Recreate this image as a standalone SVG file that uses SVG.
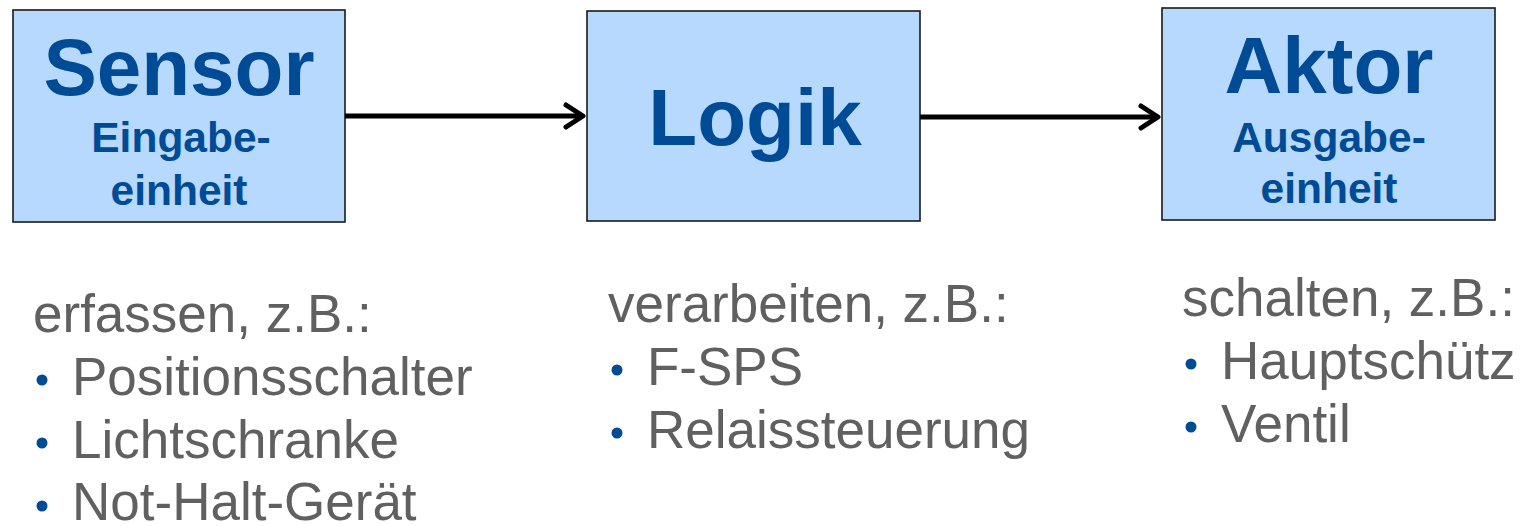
<svg xmlns="http://www.w3.org/2000/svg" width="1520" height="526" viewBox="0 0 1520 526">
<style>
.box{fill:#b6d9fd;stroke:#1a1a1a;stroke-width:1.6}
.title{font-family:"Liberation Sans",Arial,sans-serif;font-weight:bold;font-size:80px;fill:#004b96;text-anchor:middle}
.sub{font-family:"Liberation Sans",Arial,sans-serif;font-weight:bold;font-size:42.5px;fill:#004b96;text-anchor:middle}
.body{font-family:"Liberation Sans",Arial,sans-serif;font-size:53px;fill:#606060}
.bul{fill:#004b96}
.conn{stroke:#000;stroke-width:5;fill:none}
.head{stroke:#000;stroke-width:5;fill:none;stroke-linecap:round;stroke-linejoin:round}
</style>
<rect width="1520" height="526" fill="#fff"/>
<g id="sensor">
<rect class="box" x="13" y="10" width="332" height="212"/>
<text class="title" x="179" y="95">Sensor</text>
<text class="sub" x="181" y="152">Eingabe-</text>
<text class="sub" x="179" y="205">einheit</text>
</g>
<g id="logik">
<rect class="box" x="587" y="11" width="333" height="210"/>
<text class="title" x="755" y="145">Logik</text>
</g>
<g id="aktor">
<rect class="box" x="1162" y="8" width="333" height="212"/>
<text class="title" x="1329" y="93">Aktor</text>
<text class="sub" x="1329" y="152">Ausgabe-</text>
<text class="sub" x="1329" y="203">einheit</text>
</g>
<g id="connectors">
<line class="conn" x1="345" y1="116" x2="583" y2="116"/>
<polyline class="head" points="566,105 583,116 566,127"/>
<line class="conn" x1="920" y1="117" x2="1158" y2="117"/>
<polyline class="head" points="1141,106 1158,117 1141,128"/>
</g>
<g id="list-sensor">
<text class="body" x="33" y="332">erfassen, z.B.:</text>
<circle class="bul" cx="42" cy="380" r="5.5"/>
<text class="body" x="72" y="395">Positionsschalter</text>
<circle class="bul" cx="42" cy="443" r="5.5"/>
<text class="body" x="72" y="458">Lichtschranke</text>
<circle class="bul" cx="42" cy="506" r="5.5"/>
<text class="body" x="72" y="520">Not-Halt-Gerät</text>
</g>
<g id="list-logik">
<text class="body" x="608" y="322">verarbeiten, z.B.:</text>
<circle class="bul" cx="617" cy="370" r="5.5"/>
<text class="body" x="647" y="385">F-SPS</text>
<circle class="bul" cx="617" cy="433" r="5.5"/>
<text class="body" x="647" y="448">Relaissteuerung</text>
</g>
<g id="list-aktor">
<text class="body" x="1182" y="316">schalten, z.B.:</text>
<circle class="bul" cx="1191" cy="364" r="5.5"/>
<text class="body" x="1221" y="379">Hauptschütz</text>
<circle class="bul" cx="1191" cy="427" r="5.5"/>
<text class="body" x="1221" y="442">Ventil</text>
</g>
</svg>
